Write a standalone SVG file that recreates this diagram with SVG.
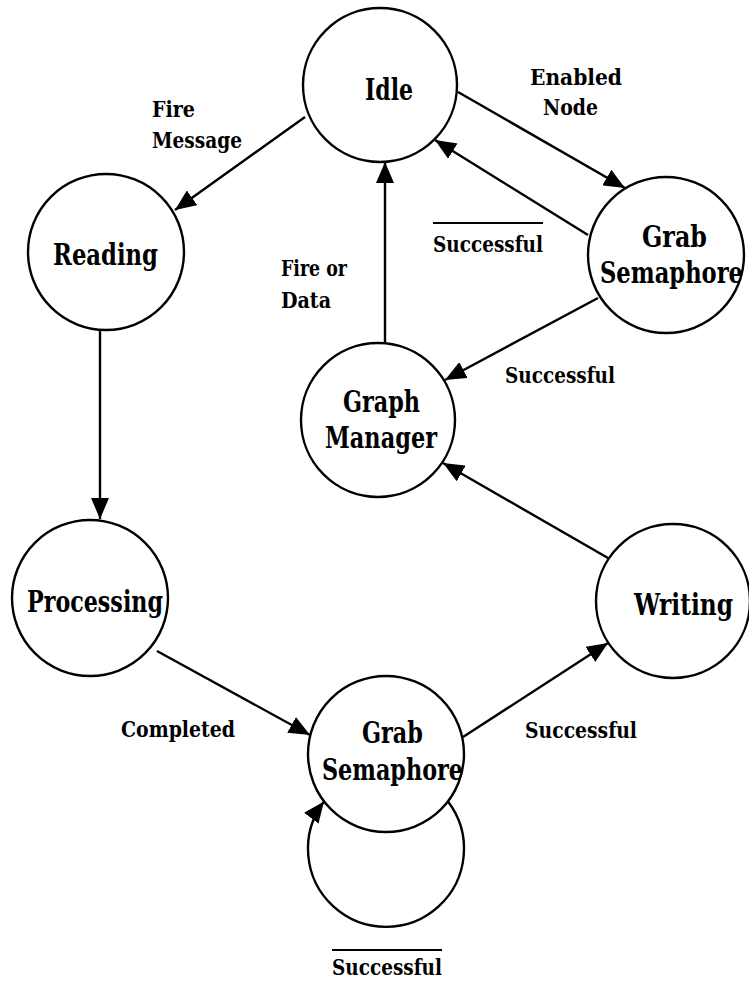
<svg xmlns="http://www.w3.org/2000/svg" width="749" height="981" viewBox="0 0 749 981">
  <style>
    .state { fill: #ffffff; stroke: #000000; stroke-width: 2.4; }
    .edge { fill: none; stroke: #000000; stroke-width: 2.4; }
    .name { font-family: "DejaVu Serif", "Liberation Serif", serif; font-size: 29px; font-weight: bold; fill: #000000; }
    .label { font-family: "DejaVu Serif", "Liberation Serif", serif; font-size: 23px; font-weight: bold; fill: #000000; }
    .bar { stroke: #000000; stroke-width: 2.2; }
  </style>
  <defs>
    <marker id="arrow" markerUnits="userSpaceOnUse" markerWidth="22" markerHeight="18" refX="21" refY="9" orient="auto">
      <path d="M0,0 L21,9 L0,18 z" fill="#000000"/>
    </marker>
  </defs>

  <rect width="749" height="981" fill="#ffffff"/>

  <!-- transitions -->
  <g id="connectors">
    <line class="edge" x1="305" y1="117" x2="175" y2="210" marker-end="url(#arrow)"/>
    <line class="edge" x1="458" y1="92" x2="625" y2="188" marker-end="url(#arrow)"/>
    <line class="edge" x1="588" y1="235" x2="435" y2="140" marker-end="url(#arrow)"/>
    <line class="edge" x1="385" y1="343" x2="385" y2="162" marker-end="url(#arrow)"/>
    <line class="edge" x1="598" y1="298" x2="445" y2="380" marker-end="url(#arrow)"/>
    <line class="edge" x1="608" y1="558" x2="443" y2="463" marker-end="url(#arrow)"/>
    <line class="edge" x1="100" y1="330" x2="100" y2="519" marker-end="url(#arrow)"/>
    <line class="edge" x1="157" y1="651" x2="310" y2="735" marker-end="url(#arrow)"/>
    <line class="edge" x1="463" y1="737" x2="608" y2="643" marker-end="url(#arrow)"/>
    <!-- retry loop on the lower semaphore state -->
    <path class="edge" d="M448,801.5 A78,78 0 1 1 324,801.5" marker-end="url(#arrow)"/>

    <text class="label" x="152" y="117" textLength="43" lengthAdjust="spacingAndGlyphs">Fire</text>
    <text class="label" x="152" y="148" textLength="90" lengthAdjust="spacingAndGlyphs">Message</text>
    <text class="label" x="530" y="85" textLength="92" lengthAdjust="spacingAndGlyphs">Enabled</text>
    <text class="label" x="543" y="115" textLength="55" lengthAdjust="spacingAndGlyphs">Node</text>
    <line class="bar" x1="433" y1="223" x2="543" y2="223"/>
    <text class="label" x="433" y="252" textLength="110" lengthAdjust="spacingAndGlyphs">Successful</text>
    <text class="label" x="281" y="276" textLength="66" lengthAdjust="spacingAndGlyphs">Fire or</text>
    <text class="label" x="281" y="308" textLength="50" lengthAdjust="spacingAndGlyphs">Data</text>
    <text class="label" x="505" y="383" textLength="110" lengthAdjust="spacingAndGlyphs">Successful</text>
    <text class="label" x="121" y="737" textLength="114" lengthAdjust="spacingAndGlyphs">Completed</text>
    <text class="label" x="525" y="738" textLength="112" lengthAdjust="spacingAndGlyphs">Successful</text>
    <line class="bar" x1="332" y1="950" x2="442" y2="950"/>
    <text class="label" x="332" y="975" textLength="110" lengthAdjust="spacingAndGlyphs">Successful</text>
  </g>

  <g id="idle">
    <circle class="state" cx="380" cy="85" r="77"/>
    <text class="name" x="365" y="100" textLength="48" lengthAdjust="spacingAndGlyphs">Idle</text>
  </g>

  <g id="reading">
    <circle class="state" cx="106" cy="252" r="78"/>
    <text class="name" x="53" y="265" textLength="105" lengthAdjust="spacingAndGlyphs">Reading</text>
  </g>

  <g id="grab-semaphore-node">
    <circle class="state" cx="666" cy="255" r="78"/>
    <text class="name" x="642" y="247" textLength="65" lengthAdjust="spacingAndGlyphs">Grab</text>
    <text class="name" x="600" y="283" textLength="143" lengthAdjust="spacingAndGlyphs">Semaphore</text>
  </g>

  <g id="graph-manager">
    <circle class="state" cx="378" cy="420" r="77"/>
    <text class="name" x="343" y="412" textLength="77" lengthAdjust="spacingAndGlyphs">Graph</text>
    <text class="name" x="325" y="448" textLength="112" lengthAdjust="spacingAndGlyphs">Manager</text>
  </g>

  <g id="processing">
    <circle class="state" cx="90" cy="598" r="78"/>
    <text class="name" x="27" y="612" textLength="136" lengthAdjust="spacingAndGlyphs">Processing</text>
  </g>

  <g id="writing">
    <circle class="state" cx="673" cy="601" r="77"/>
    <text class="name" x="634" y="615" textLength="99" lengthAdjust="spacingAndGlyphs">Writing</text>
  </g>

  <g id="grab-semaphore-write">
    <circle class="state" cx="386" cy="754" r="78"/>
    <text class="name" x="362" y="743" textLength="61" lengthAdjust="spacingAndGlyphs">Grab</text>
    <text class="name" x="322" y="780" textLength="141" lengthAdjust="spacingAndGlyphs">Semaphore</text>
  </g>
</svg>
